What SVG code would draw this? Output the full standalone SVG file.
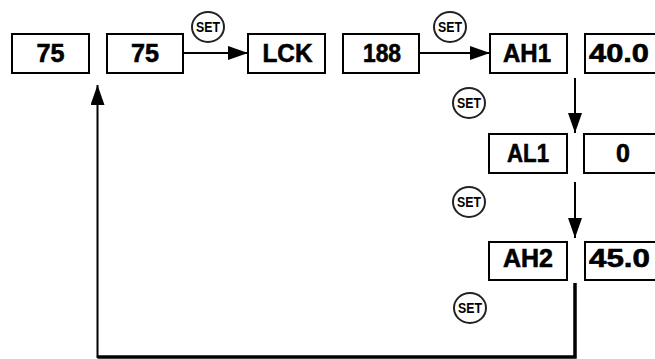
<svg xmlns="http://www.w3.org/2000/svg" width="655" height="359" viewBox="0 0 655 359">
<style>
.box rect{fill:#fff;stroke:#000;stroke-width:2}
.box text{font-family:"Liberation Sans",Arial,sans-serif;font-weight:bold;font-size:25px;text-anchor:middle;fill:#000;stroke:#000;stroke-width:0.6}
.set ellipse{fill:#fff;stroke:#222;stroke-width:2}
.set text{font-family:"Liberation Sans",Arial,sans-serif;font-weight:bold;font-size:14px;text-anchor:middle;fill:#000}
.conn{fill:none;stroke:#000;stroke-width:2}
.thick{fill:none;stroke:#000;stroke-width:3.5}
</style>
<defs>
<marker id="ah" markerUnits="userSpaceOnUse" markerWidth="20" markerHeight="14" refX="20" refY="7" orient="auto">
<polygon points="0,0 20,7 0,14" fill="#000"/>
</marker>
</defs>
<rect width="655" height="359" fill="#fff"/>
<g id="connectors">
<line class="conn" x1="183" y1="53" x2="248" y2="53" marker-end="url(#ah)"/>
<line class="conn" x1="419" y1="53" x2="490" y2="53" marker-end="url(#ah)"/>
<line class="conn" x1="575" y1="78" x2="575" y2="133" marker-end="url(#ah)"/>
<line class="conn" x1="575" y1="182" x2="575" y2="238" marker-end="url(#ah)"/>
<polyline class="thick" points="575,283 575,357 97.5,357"/>
<line class="conn" x1="97.5" y1="358" x2="97.5" y2="85" marker-end="url(#ah)"/>
</g>
<g id="n75a" class="box"><rect x="12" y="34" width="77" height="39"/><text x="50.5" y="61.5" textLength="28" lengthAdjust="spacingAndGlyphs">75</text></g>
<g id="n75b" class="box"><rect x="107" y="34" width="76" height="39"/><text x="145" y="61.5" textLength="28" lengthAdjust="spacingAndGlyphs">75</text></g>
<g id="nLCK" class="box"><rect x="248" y="34" width="77" height="39"/><text x="287.5" y="62" textLength="50" lengthAdjust="spacingAndGlyphs">LCK</text></g>
<g id="n188" class="box"><rect x="343" y="34" width="76" height="39"/><text x="382" y="61.5" textLength="38" lengthAdjust="spacingAndGlyphs">188</text></g>
<g id="nAH1" class="box"><rect x="490" y="34" width="77" height="39"/><text x="527" y="61.5" textLength="48" lengthAdjust="spacingAndGlyphs">AH1</text></g>
<g id="n40" class="box"><rect x="585" y="34" width="80" height="39"/><text x="619" y="61.5" textLength="60" lengthAdjust="spacingAndGlyphs">40.0</text></g>
<g id="nAL1" class="box"><rect x="489" y="134" width="78" height="39"/><text x="528" y="161.5" textLength="42" lengthAdjust="spacingAndGlyphs">AL1</text></g>
<g id="n0" class="box"><rect x="584" y="134" width="80" height="39"/><text x="623" y="161.5">0</text></g>
<g id="nAH2" class="box"><rect x="489" y="242" width="78" height="38"/><text x="528" y="267" textLength="50" lengthAdjust="spacingAndGlyphs">AH2</text></g>
<g id="n45" class="box"><rect x="585" y="242" width="80" height="38"/><text x="619.5" y="267" textLength="61" lengthAdjust="spacingAndGlyphs">45.0</text></g>
<g id="set1" class="set"><ellipse cx="208" cy="27" rx="16" ry="15"/><text x="208" y="32" textLength="24" lengthAdjust="spacingAndGlyphs">SET</text></g>
<g id="set2" class="set"><ellipse cx="450" cy="27" rx="16" ry="15"/><text x="450" y="32" textLength="24" lengthAdjust="spacingAndGlyphs">SET</text></g>
<g id="set3" class="set"><ellipse cx="469" cy="103" rx="16" ry="15"/><text x="469" y="108" textLength="24" lengthAdjust="spacingAndGlyphs">SET</text></g>
<g id="set4" class="set"><ellipse cx="469" cy="202" rx="16" ry="15"/><text x="469" y="207" textLength="24" lengthAdjust="spacingAndGlyphs">SET</text></g>
<g id="set5" class="set"><ellipse cx="470" cy="308" rx="16" ry="15"/><text x="470" y="313" textLength="24" lengthAdjust="spacingAndGlyphs">SET</text></g>
</svg>
